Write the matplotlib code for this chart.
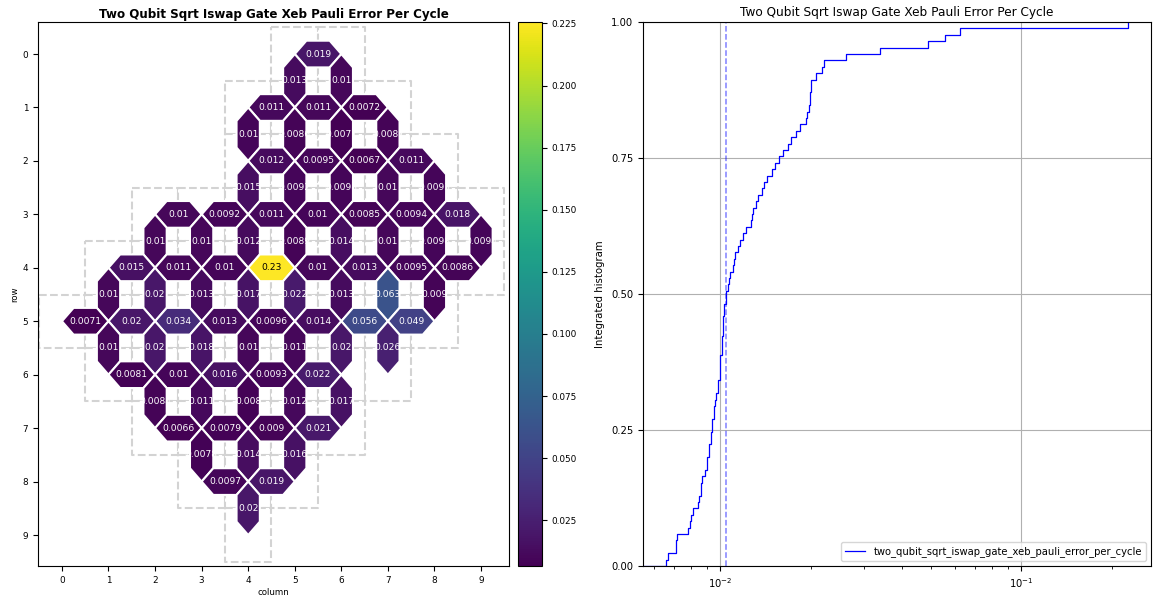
import matplotlib
matplotlib.use('Agg')
import matplotlib.pyplot as plt
from matplotlib.patches import Polygon, Rectangle
from matplotlib.collections import PatchCollection
import numpy as np

TITLE = 'Two Qubit Sqrt Iswap Gate Xeb Pauli Error Per Cycle'
LABEL = 'two_qubit_sqrt_iswap_gate_xeb_pauli_error_per_cycle'

# qubits present on each row: first and last column
qubit_rows = [0, 1, 2, 3, 4, 5, 6, 7, 8, 9]
qubit_first_col = [5, 4, 4, 2, 1, 0, 1, 2, 3, 4]
qubit_last_col = [6, 7, 8, 9, 9, 8, 7, 6, 5, 4]

# couplers (row1, col1, row2, col2) and their pauli error per cycle
coupler_pairs = [
    (0, 5, 0, 6),
    (0, 5, 1, 5), (0, 6, 1, 6),
    (1, 4, 1, 5), (1, 5, 1, 6), (1, 6, 1, 7),
    (1, 4, 2, 4), (1, 5, 2, 5), (1, 6, 2, 6), (1, 7, 2, 7),
    (2, 4, 2, 5), (2, 5, 2, 6), (2, 6, 2, 7), (2, 7, 2, 8),
    (2, 4, 3, 4), (2, 5, 3, 5), (2, 6, 3, 6), (2, 7, 3, 7), (2, 8, 3, 8),
    (3, 2, 3, 3), (3, 3, 3, 4), (3, 4, 3, 5), (3, 5, 3, 6), (3, 6, 3, 7), (3, 7, 3, 8), (3, 8, 3, 9),
    (3, 2, 4, 2), (3, 3, 4, 3), (3, 4, 4, 4), (3, 5, 4, 5), (3, 6, 4, 6), (3, 7, 4, 7), (3, 8, 4, 8), (3, 9, 4, 9),
    (4, 1, 4, 2), (4, 2, 4, 3), (4, 3, 4, 4), (4, 4, 4, 5), (4, 5, 4, 6), (4, 6, 4, 7), (4, 7, 4, 8), (4, 8, 4, 9),
    (4, 1, 5, 1), (4, 2, 5, 2), (4, 3, 5, 3), (4, 4, 5, 4), (4, 5, 5, 5), (4, 6, 5, 6), (4, 7, 5, 7), (4, 8, 5, 8),
    (5, 0, 5, 1), (5, 1, 5, 2), (5, 2, 5, 3), (5, 3, 5, 4), (5, 4, 5, 5), (5, 5, 5, 6), (5, 6, 5, 7), (5, 7, 5, 8),
    (5, 1, 6, 1), (5, 2, 6, 2), (5, 3, 6, 3), (5, 4, 6, 4), (5, 5, 6, 5), (5, 6, 6, 6), (5, 7, 6, 7),
    (6, 1, 6, 2), (6, 2, 6, 3), (6, 3, 6, 4), (6, 4, 6, 5), (6, 5, 6, 6),
    (6, 2, 7, 2), (6, 3, 7, 3), (6, 4, 7, 4), (6, 5, 7, 5), (6, 6, 7, 6),
    (7, 2, 7, 3), (7, 3, 7, 4), (7, 4, 7, 5), (7, 5, 7, 6),
    (7, 3, 8, 3), (7, 4, 8, 4), (7, 5, 8, 5),
    (8, 3, 8, 4), (8, 4, 8, 5),
    (8, 4, 9, 4),
]
coupler_values = [
    0.0194,
    0.0131, 0.0101,
    0.0112, 0.0108, 0.0072,
    0.0100, 0.0086, 0.0071, 0.0087,
    0.0119, 0.0095, 0.0067, 0.0110,
    0.0148, 0.0092, 0.0098, 0.0102, 0.0093,
    0.0103, 0.0092, 0.0114, 0.0100, 0.0085, 0.0094, 0.0178,
    0.0101, 0.0104, 0.0122, 0.0089, 0.0143, 0.0102, 0.0098, 0.0094,
    0.0152, 0.0107, 0.0100, 0.2256, 0.0103, 0.0127, 0.0095, 0.0086,
    0.0101, 0.0199, 0.0128, 0.0172, 0.0218, 0.0126, 0.0626, 0.0090,
    0.0071, 0.0200, 0.0339, 0.0133, 0.0096, 0.0137, 0.0556, 0.0488,
    0.0104, 0.0199, 0.0184, 0.0102, 0.0106, 0.0197, 0.0262,
    0.0081, 0.0100, 0.0157, 0.0093, 0.0221,
    0.0084, 0.0111, 0.0080, 0.0116, 0.0168,
    0.0066, 0.0079, 0.0090, 0.0207,
    0.0078, 0.0140, 0.0162,
    0.0097, 0.0192,
    0.01995,
]

fig = plt.figure(figsize=(11.57, 6.04), dpi=100)
ax = fig.add_axes([0.0328, 0.0629, 0.4071, 0.9007])
cax = fig.add_axes([0.4477, 0.0629, 0.0207, 0.9007])
ax2 = fig.add_axes([0.5557, 0.0629, 0.4391, 0.9007])

# qubit squares, white with dashed grey edges
squares = []
for r, c0, c1 in zip(qubit_rows, qubit_first_col, qubit_last_col):
    for c in range(c0, c1 + 1):
        squares.append(Rectangle((c - 0.5, r - 0.5), 1, 1))
ax.add_collection(PatchCollection(squares, facecolor='white', edgecolor='lightgrey',
                                  linestyle='--', linewidth=1.5, zorder=1))

# coupler hexagons
polys = []
centers = []
for r1, c1, r2, c2 in coupler_pairs:
    if r1 == r2:
        pts = [(c1, r1), (c1 + 0.25, r1 - 0.25), (c2 - 0.25, r1 - 0.25),
               (c2, r1), (c2 - 0.25, r1 + 0.25), (c1 + 0.25, r1 + 0.25)]
    else:
        pts = [(c1, r1), (c1 + 0.25, r1 + 0.25), (c1 + 0.25, r2 - 0.25),
               (c1, r2), (c1 - 0.25, r2 - 0.25), (c1 - 0.25, r1 + 0.25)]
    polys.append(Polygon(pts))
    centers.append(((c1 + c2) / 2, (r1 + r2) / 2))

vals = np.array(coupler_values)
coll = PatchCollection(polys, cmap='viridis', edgecolor='white', linewidth=1.5, zorder=2)
coll.set_array(vals)
coll.set_clim(vals.min(), vals.max())
ax.add_collection(coll)

norm = coll.norm
for (x, y), v in zip(centers, vals):
    color = 'black' if norm(v) > 0.6 else 'white'
    ax.text(x, y, format(v, '.2g'), ha='center', va='center', color=color,
            fontsize=6.6, zorder=3)

ax.set_xlim(-0.515, 9.6)
ax.set_ylim(9.58, -0.6)
ax.set_xticks(range(10))
ax.set_yticks(range(10))
ax.tick_params(labelsize=6.4)
ax.set_xlabel('column', fontsize=6.2, labelpad=2)
ax.set_ylabel('row', fontsize=6.2, labelpad=2)
ax.set_title(TITLE, fontweight='bold', fontsize=8.6, pad=3)

cb = fig.colorbar(coll, cax=cax)
cb.set_ticks([0.025, 0.05, 0.075, 0.1, 0.125, 0.15, 0.175, 0.2, 0.225])
cb.ax.tick_params(labelsize=6.4)

# integrated histogram
data = sorted(coupler_values)
n = len(data)
bins = np.linspace(0, 1, n + 1)
params = sorted(np.concatenate(([0], data)))
ax2.step(params, bins, where='post', color='b', linestyle='-', lw=0.9, label=LABEL)
ax2.set_xscale('log')
ax2.set_ylim(0, 1)
ax2.set_yticks([0.0, 0.25, 0.5, 0.75, 1.0])
ax2.set_yticklabels(['0.00', '0.25', '0.50', '0.75', '1.00'])
ax2.grid(True)
ax2.set_ylabel('Integrated histogram', fontsize=7.3, labelpad=4)
ax2.set_title(TITLE, fontsize=8.7, pad=4)
ax2.tick_params(labelsize=7.2)
ax2.legend(loc='lower right', fontsize=7.2)
ax2.axvline(np.median(data), linestyle='--', color='b', alpha=0.5, lw=1.1)

fig.savefig('out.png', dpi=100)
